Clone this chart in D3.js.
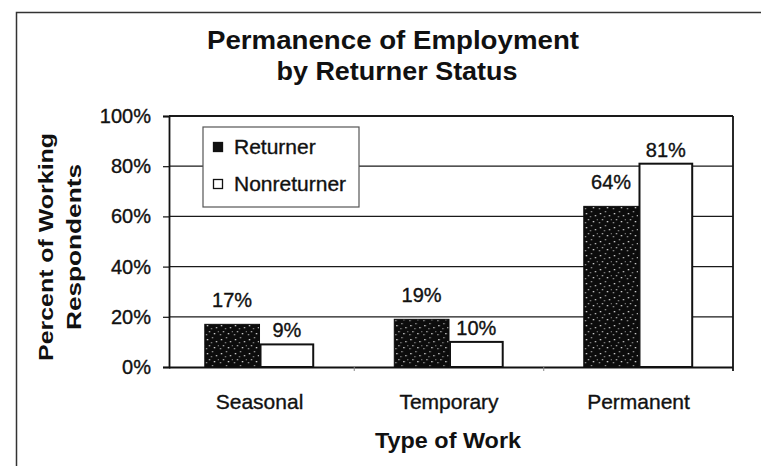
<!DOCTYPE html>
<html>
<head>
<meta charset="utf-8">
<script src="https://cdn.jsdelivr.net/npm/d3@7"></script>
<style>
  html, body { margin: 0; padding: 0; background: #fff; }
  svg { display: block; font-family: "Liberation Sans", Arial, Helvetica, sans-serif; }
  .thick { stroke: #111; stroke-width: 0.35px; }
</style>
</head>
<body>
<svg id="chart" width="761" height="466"></svg>
<script>
// ---- data ----
const categories = ["Seasonal", "Temporary", "Permanent"];
const seriesNames = ["Returner", "Nonreturner"];
const returner = [0.17, 0.19, 0.64];
const nonreturner = [0.09, 0.10, 0.81];
const yTicks = [0, 0.2, 0.4, 0.6, 0.8, 1.0];
const titleLines = ["Permanence of Employment", "by Returner Status"];
const yTitleLines = ["Percent of Working", "Respondents"];
const xTitle = "Type of Work";

const seriesValues = [returner, nonreturner];

const svg = d3.select("#chart");

// pattern for speckled black fill
const defs = svg.append("defs");
const pat = defs.append("pattern").attr("id", "speckle")
  .attr("patternUnits", "userSpaceOnUse").attr("width", 14).attr("height", 14);
pat.append("rect").attr("width", 14).attr("height", 14).attr("fill", "#0c0c0c");
[[2,3,0.9],[7,1,0.6],[11,5,0.8],[4,9,0.7],[9,11,0.9],[13,9,0.5],[1,12,0.6],[6,6,0.5]].forEach(([x,y,o]) => {
  pat.append("rect").attr("x", x).attr("y", y).attr("width", 1.3).attr("height", 1.3)
    .attr("fill", "#fff").attr("opacity", o);
});

// outer frame
svg.append("rect").attr("x", 16.5).attr("y", 12.5).attr("width", 800).attr("height", 500)
  .attr("fill", "none").attr("stroke", "#333").attr("stroke-width", 1.5);

// scales
const plotLeft = 169, plotRight = 733;
const y = d3.scaleLinear().domain([0, 1]).range([367, 116]);
const x0 = d3.scaleBand().domain(categories).range([165, 733]).paddingInner(0.4225).paddingOuter(0.21);
const x1 = d3.scaleBand().domain(seriesNames).range([0, x0.bandwidth()]);

// gridlines
svg.append("g").selectAll("line").data(yTicks.filter(d => d > 0)).join("line")
  .attr("x1", plotLeft).attr("x2", plotRight)
  .attr("y1", d => y(d)).attr("y2", d => y(d))
  .attr("stroke", "#1a1a1a").attr("stroke-width", d => d === 1 ? 1.8 : 1.3);

// right border
svg.append("line").attr("x1", plotRight).attr("x2", plotRight)
  .attr("y1", y(1)).attr("y2", y(0) + 4)
  .attr("stroke", "#111").attr("stroke-width", 1.8);

// y axis
const yAxis = d3.axisLeft(y).tickValues(yTicks).tickFormat(d3.format(".0%")).tickSize(6).tickPadding(12);
const gy = svg.append("g").attr("transform", `translate(${plotLeft},0)`).call(yAxis);
gy.select(".domain").attr("stroke", "#111").attr("stroke-width", 1.8);
gy.selectAll(".tick line").attr("stroke", "#111").attr("stroke-width", 1.2);
gy.selectAll(".tick text").attr("font-size", 20).attr("fill", "#111").attr("class", "thick")
  .attr("font-family", "'Liberation Sans', Arial, sans-serif");

// x axis
const xAxis = d3.axisBottom(x0).tickSize(0).tickPadding(27);
const gx = svg.append("g").attr("transform", `translate(0,${y(0)})`).call(xAxis);
gx.select(".domain").attr("d", `M${plotLeft},0.5H${plotRight}`).attr("stroke", "#111").attr("stroke-width", 2.2);
gx.selectAll(".tick text").attr("font-size", 21).attr("fill", "#111").attr("class", "thick")
  .attr("font-family", "'Liberation Sans', Arial, sans-serif");
// small category separator ticks
const seps = categories.slice(1).map(c => x0(c) - x0.step() * x0.paddingInner() / 2);
svg.append("g").selectAll("line").data(seps).join("line")
  .attr("x1", d => d).attr("x2", d => d).attr("y1", y(0)).attr("y2", y(0) + 4)
  .attr("stroke", "#888").attr("stroke-width", 1);

// bars
const groups = svg.append("g").selectAll("g").data(categories).join("g")
  .attr("transform", c => `translate(${x0(c)},0)`);
const labelOffset = [17, 7];
groups.each(function(c, i) {
  const g = d3.select(this);
  seriesNames.forEach((s, si) => {
    const v = seriesValues[si][i];
    g.append("rect")
      .attr("x", x1(s) + (si === 1 ? 1 : 0)).attr("y", y(v))
      .attr("width", x1.bandwidth() - (si === 1 ? 2 : 0)).attr("height", y(0) - y(v))
      .attr("fill", si === 0 ? "url(#speckle)" : "#fff")
      .attr("stroke", si === 0 ? "#0c0c0c" : "#111")
      .attr("stroke-width", si === 0 ? 1 : 2);
    g.append("text")
      .attr("x", x1(s) + x1.bandwidth() / 2)
      .attr("y", y(v) - labelOffset[si])
      .attr("text-anchor", "middle").attr("font-size", 20).attr("fill", "#111").attr("class", "thick")
      .text(d3.format(".0%")(v));
  });
});

// legend
const lg = svg.append("g").attr("transform", "translate(203,127)");
lg.append("rect").attr("width", 156).attr("height", 80).attr("fill", "#fff")
  .attr("stroke", "#555").attr("stroke-width", 1.2);
seriesNames.forEach((s, si) => {
  const yy = 20 + si * 37;
  lg.append("rect").attr("x", 10.5).attr("y", yy - 4.5).attr("width", 9).attr("height", 9)
    .attr("fill", si === 0 ? "#111" : "#fff").attr("stroke", "#111").attr("stroke-width", 1.3);
  lg.append("text").attr("x", 31).attr("y", yy + 7).attr("font-size", 21).attr("fill", "#111")
    .attr("class", "thick").text(s);
});

// title
svg.append("text").attr("x", 393).attr("y", 49).attr("text-anchor", "middle")
  .attr("font-size", 25).attr("font-weight", "bold").attr("fill", "#111")
  .attr("textLength", 372).attr("lengthAdjust", "spacingAndGlyphs").text(titleLines[0]);
svg.append("text").attr("x", 397).attr("y", 80).attr("text-anchor", "middle")
  .attr("font-size", 25).attr("font-weight", "bold").attr("fill", "#111")
  .attr("textLength", 241).attr("lengthAdjust", "spacingAndGlyphs").text(titleLines[1]);

// y title
const yt = svg.append("g").attr("transform", "translate(0,247) rotate(-90)");
yt.append("text").attr("x", 0).attr("y", 53).attr("text-anchor", "middle")
  .attr("font-size", 20).attr("font-weight", "bold").attr("fill", "#111")
  .attr("textLength", 228).attr("lengthAdjust", "spacingAndGlyphs").text(yTitleLines[0]);
yt.append("text").attr("x", 0).attr("y", 81).attr("text-anchor", "middle")
  .attr("font-size", 20).attr("font-weight", "bold").attr("fill", "#111")
  .attr("textLength", 166).attr("lengthAdjust", "spacingAndGlyphs").text(yTitleLines[1]);

// x title
svg.append("text").attr("x", 448).attr("y", 448).attr("text-anchor", "middle")
  .attr("font-size", 22).attr("font-weight", "bold").attr("fill", "#111")
  .attr("textLength", 146).attr("lengthAdjust", "spacingAndGlyphs").text(xTitle);
</script>
</body>
</html>
